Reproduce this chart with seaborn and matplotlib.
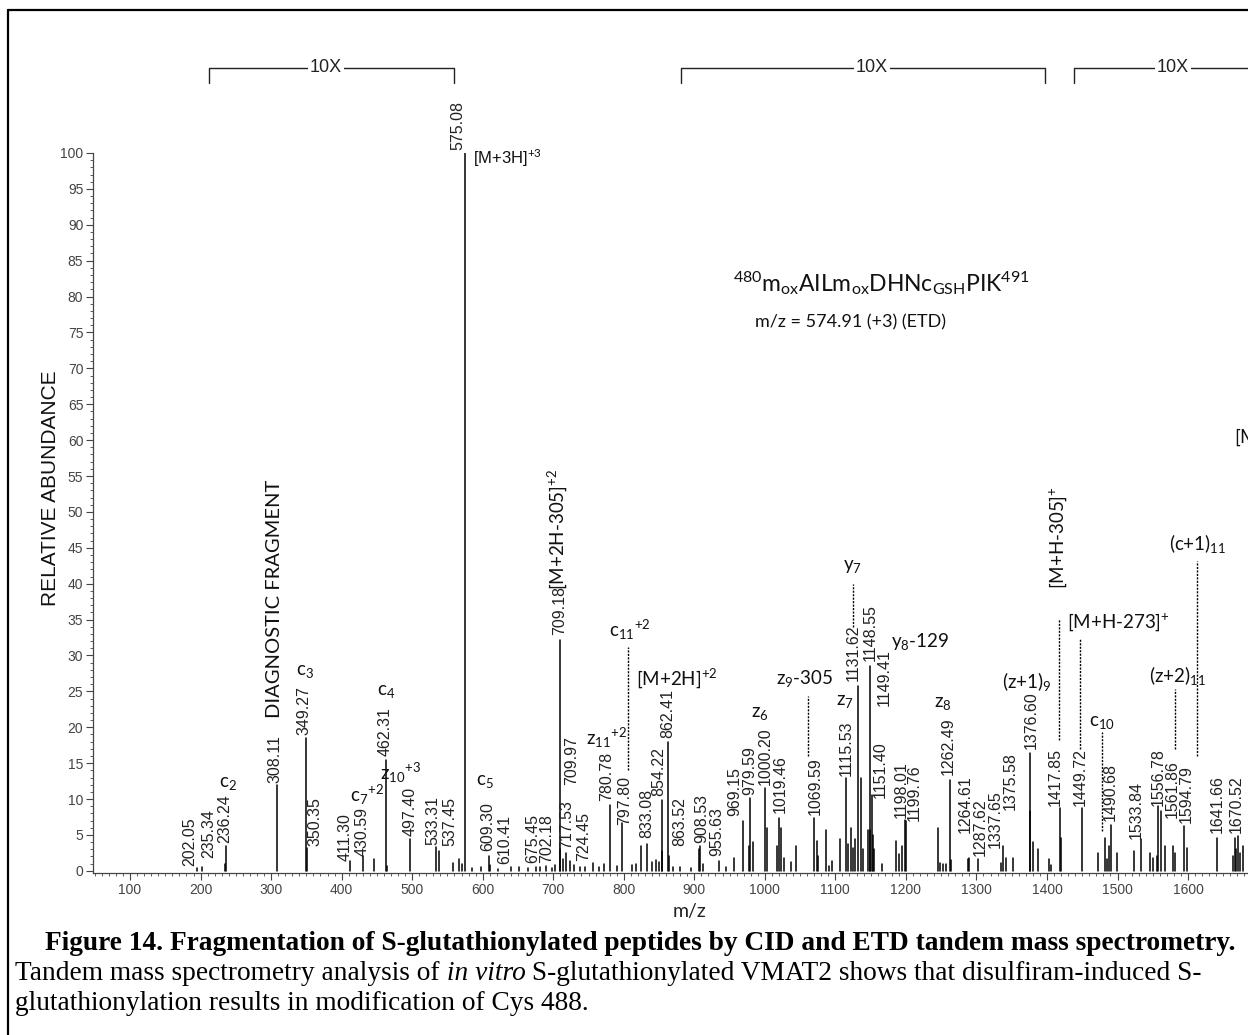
import numpy as np
import pandas as pd
import matplotlib
matplotlib.use("Agg")
import matplotlib.pyplot as plt
import seaborn as sns
from matplotlib.lines import Line2D
from matplotlib.ticker import MultipleLocator

# ---------------- data ----------------
# labelled peaks (m/z, relative abundance)
labeled_mz = [202.05, 235.34, 236.24, 308.11, 349.27, 350.35, 411.30, 430.59, 462.31, 497.40,
              533.31, 537.45, 575.08, 609.30, 610.41, 675.45, 702.18, 709.18, 709.97, 717.53,
              724.45, 780.78, 797.80, 833.08, 854.22, 862.41, 863.52, 908.53, 955.63, 969.15,
              979.59, 1000.20, 1019.46, 1069.59, 1115.53, 1131.62, 1148.55, 1149.41, 1151.40, 1198.01,
              1199.76, 1262.49, 1264.61, 1287.62, 1337.65, 1375.58, 1376.60, 1417.85, 1449.72, 1490.68,
              1533.84, 1556.78, 1561.86, 1594.79, 1641.66, 1670.52]
labeled_int = [0.6, 1.0, 3.4, 12.0, 18.5, 3.2, 1.4, 2.0, 15.5, 4.4,
               3.3, 2.8, 100.0, 2.1, 0.8, 0.5, 0.8, 32.1, 3.0, 2.5,
               1.4, 9.2, 6.7, 3.7, 9.9, 18.0, 2.0, 3.4, 1.8, 6.9,
               10.1, 11.5, 7.4, 7.4, 12.9, 25.7, 28.5, 5.7, 10.5, 7.1,
               6.9, 12.7, 1.5, 1.6, 3.4, 8.3, 16.4, 8.7, 8.7, 6.4,
               4.4, 9.0, 8.3, 6.2, 4.6, 4.8]
# where each m/z label sits (label centre m/z, label bottom abundance)
label_x = [185, 211, 234.7, 305.5, 346.7, 362, 404.8, 428.4, 461.5, 497,
           530, 553.7, 565, 607.5, 631.6, 671.5, 690.7, 709.6, 726, 719,
           742.7, 775.8, 801.8, 832.5, 849, 863, 879.8, 910.5, 931.8, 957.7,
           979, 1000, 1021.5, 1071, 1116, 1125.5, 1149, 1170, 1163.5, 1193,
           1211.5, 1260, 1283.8, 1305, 1326, 1347.6, 1378, 1411.5, 1447, 1489.5,
           1527, 1558, 1576.9, 1598, 1640.8, 1669]
label_y = [0.7, 1.8, 3.9, 12.2, 18.9, 3.5, 1.4, 2.1, 16.0, 4.9,
           3.6, 3.4, 100.4, 2.8, 0.9, 1.1, 1.1, 32.8, 12.0, 3.0,
           1.4, 9.7, 6.4, 4.6, 10.4, 18.5, 3.5, 3.9, 2.1, 7.6,
           10.6, 12.0, 8.0, 7.8, 13.2, 26.4, 29.2, 22.9, 10.1, 7.4,
           6.9, 13.4, 5.3, 2.1, 3.2, 8.5, 17.0, 9.0, 9.0, 6.9,
           4.4, 9.0, 7.4, 6.7, 5.3, 5.3]

# unlabelled peaks
other_mz = [194.5, 446, 464.8, 558, 567, 571, 585, 598, 622, 640,
            652, 664, 681, 690, 698, 713.4, 730, 738, 745, 757,
            765, 772, 790, 812, 818, 824, 840, 846, 850, 853.8,
            870, 880, 895, 906, 912, 935.5, 945, 978, 983, 1003.6,
            1017.5, 1022.5, 1027.7, 1037, 1044, 1073.6, 1076, 1086.7, 1091, 1095.7,
            1106.6, 1118.4, 1121.8, 1124.6, 1128, 1136, 1139.7, 1146, 1153, 1155,
            1166.6, 1186, 1190.7, 1194, 1246, 1248.5, 1252, 1257, 1290, 1302.7,
            1334.5, 1342, 1352.3, 1379.5, 1387.8, 1403.4, 1406, 1419.5, 1472.8, 1482.4,
            1485, 1487.5, 1499.8, 1524, 1546, 1550, 1555.5, 1567.4, 1579, 1581.6,
            1598, 1664, 1666.7, 1668, 1674, 1678]
other_int = [0.4, 1.7, 0.7, 1.1, 1.6, 1.0, 0.4, 0.5, 0.3, 0.5,
             0.6, 0.4, 0.5, 0.7, 0.4, 1.6, 0.8, 0.6, 0.5, 1.1,
             0.6, 0.9, 0.7, 0.8, 1.0, 3.5, 1.3, 1.5, 1.2, 2.8,
             0.6, 0.5, 0.4, 3.0, 1.0, 1.4, 0.6, 3.5, 4.0, 6.0,
             3.5, 6.0, 1.8, 1.2, 3.5, 4.1, 2.0, 5.7, 0.7, 1.4,
             4.4, 3.7, 6.0, 3.2, 4.5, 12.9, 3.0, 5.7, 5.0, 3.0,
             0.9, 4.1, 2.3, 3.5, 6.0, 1.1, 1.0, 0.9, 1.8, 1.6,
             1.1, 1.8, 1.8, 4.0, 3.0, 1.6, 0.8, 4.6, 2.5, 4.6,
             1.6, 3.5, 2.5, 2.7, 2.5, 1.8, 2.0, 3.5, 3.5, 2.5,
             3.2, 2.0, 4.6, 3.0, 2.5, 3.5]

# dotted guide lines for ion labels (m/z, from, to)
guide_mz = [806.5, 1124.6, 1061.7, 1417.6, 1447.0, 1477.6, 1582.0, 1612.0]
guide_top = [31.2, 40.0, 24.3, 35.1, 32.4, 19.4, 25.4, 43.2]
guide_bottom = [14.0, 34.0, 16.0, 18.2, 17.0, 5.5, 17.0, 16.0]

# ion annotations: text, m/z, abundance, rotation
ion_text = ["DIAGNOSTIC FRAGMENT", "c$_2$", "c$_3$", "c$_4$", "c$_7$$^{+2}$", "z$_{10}$$^{+3}$",
            "c$_5$", "[M+2H-305]$^{+2}$", "c$_{11}$$^{+2}$", "[M+2H]$^{+2}$", "z$_{11}$$^{+2}$",
            "z$_6$", "z$_9$-305", "z$_7$", "y$_7$", "y$_8$-129", "z$_8$", "(z+1)$_9$",
            "[M+H-305]$^{+}$", "[M+H-273]$^{+}$", "c$_{10}$", "(z+2)$_{11}$", "(c+1)$_{11}$", "[M+H]$^{+}$"]
ion_x = [305.5, 238.9, 348, 463, 436, 482.8, 603, 704.9, 808.9, 875.5, 776,
         993, 1057, 1113.7, 1123.6, 1220, 1252.6, 1371.8, 1416, 1500.8, 1478, 1584.5, 1614, 1665]
ion_y = [37.9, 12.2, 27.8, 25.0, 10.6, 13.6, 12.5, 47.6, 33.5, 26.8, 18.5,
         21.9, 26.8, 23.6, 42.4, 31.9, 23.3, 26.4, 46.4, 34.7, 20.6, 27.2, 45.6, 60.4]
ion_rot = [90, 0, 0, 0, 0, 0, 0, 90, 0, 0, 0, 0, 0, 0, 0, 0, 0, 0, 90, 0, 0, 0, 0, 0]

# "10X" zoom brackets (m/z start, end, label position)
bracket_start = [212, 881, 1438]
bracket_end = [559, 1397, 1720]
bracket_label = [377.9, 1152, 1578.8]

# ---------------- style ----------------
sns.set_theme(style="ticks")
NARROW = ['Liberation Sans Narrow', 'Liberation Sans', 'DejaVu Sans']
CAL = ['Lato', 'DejaVu Sans']
plt.rcParams['font.family'] = NARROW
plt.rcParams['mathtext.fontset'] = 'custom'
plt.rcParams['mathtext.rm'] = 'Lato'
plt.rcParams['mathtext.it'] = 'Lato:italic'
plt.rcParams['mathtext.bf'] = 'Lato:bold'

W, H = 1248, 1035
fig = plt.figure(figsize=(W / 100, H / 100), dpi=100)
fig.patch.set_facecolor('white')
ax = fig.add_axes([93 / W, 1 - 873 / H, 1 - 93 / W, (873 - 153) / H])

all_mz = labeled_mz + other_mz
all_int = labeled_int + other_int
rows = []
for i, (m, h) in enumerate(zip(all_mz, all_int)):
    rows.append((i, m, 0.0))
    rows.append((i, m, h))
df = pd.DataFrame(rows, columns=['peak', 'mz', 'intensity'])
sns.lineplot(data=df, x='mz', y='intensity', units='peak', estimator=None, sort=False,
             color='black', lw=1.1, ax=ax, legend=False)

ax.set_xlim(47.5, 1685)
ax.set_ylim(-0.3, 100)
ax.set_xlabel('')
ax.set_ylabel('')
for s in ['top', 'right']:
    ax.spines[s].set_visible(False)
for s in ['left', 'bottom']:
    ax.spines[s].set_color('#444444')
    ax.spines[s].set_linewidth(0.9)
ax.yaxis.set_major_locator(MultipleLocator(5))
ax.yaxis.set_minor_locator(MultipleLocator(1))
ax.xaxis.set_major_locator(MultipleLocator(100))
ax.xaxis.set_minor_locator(MultipleLocator(10))
ax.tick_params(axis='both', which='major', direction='out', length=5, width=0.8,
               color='#444444', labelsize=10, labelcolor='#444444', pad=2)
ax.tick_params(axis='both', which='minor', direction='out', length=2.5, width=0.6, color='#444444')
ax.set_xticks([t for t in range(100, 1700, 100)])
ax.set_yticks(list(range(0, 101, 5)))

# m/z labels on peaks
for m, lx, ly in zip(labeled_mz, label_x, label_y):
    ax.text(lx, ly, f"{m:.2f}", rotation=90, ha='center', va='bottom', fontsize=11.5,
            color='#222222', clip_on=False)

# [M+3H] label
ax.text(586.3, 99.4, "[M+3H]$^{+3}$", ha='left', va='center', fontsize=12, family=NARROW,
        color='#111111', clip_on=False)

# ion annotations
for t, x, y, r in zip(ion_text, ion_x, ion_y, ion_rot):
    fs = 14.5 if t == "DIAGNOSTIC FRAGMENT" else 13.5
    ax.text(x, y, t, rotation=r, ha='center' if t != "[M+H]$^{+}$" else 'left', va='center',
            fontsize=fs, family=CAL, color='#111111', clip_on=False)

# guide lines
ax.vlines(guide_mz, guide_bottom, guide_top, colors='black', linestyles=(0, (1.5, 1.0)),
          lw=1.0, clip_on=False)

# peptide text
ax.text(955, 81.9, "$^{480}$m$_{\\mathrm{ox}}$AILm$_{\\mathrm{ox}}$DHNc$_{\\mathrm{GSH}}$PIK$^{491}$",
        ha='left', va='center', fontsize=16.5, family=CAL, color='#111111')
ax.text(986, 76.4, "m/z = 574.91 (+3) (ETD)", ha='left', va='center', fontsize=13,
        family=CAL, color='#111111')

# 10X brackets
ybar, ytick = 111.9, 109.8
for s, e, lx in zip(bracket_start, bracket_end, bracket_label):
    ax.plot([s, s, e, e], [ytick, ybar, ybar, ytick], color='#222222', lw=1.0, clip_on=False)
    ax.text(lx, ybar, "10X", ha='center', va='center', fontsize=13, family=NARROW, color='#222222',
            bbox=dict(fc='white', ec='none', pad=1.5), clip_on=False)

# axis titles
fig.text(50 / W, 1 - 488 / H, "RELATIVE ABUNDANCE", rotation=90, ha='center', va='center',
         fontsize=15, family=NARROW, color='#111111')
fig.text(690 / W, 1 - 912 / H, "m/z", ha='center', va='center', fontsize=14, family=CAL,
         color='#222222')

# frame
fig.add_artist(Line2D([8 / W, 8 / W], [0, 1 - 10 / H], transform=fig.transFigure, color='black', lw=1.6))
fig.add_artist(Line2D([8 / W, 1], [1 - 10 / H, 1 - 10 / H], transform=fig.transFigure, color='black', lw=1.6))

# caption
SERIF = ['Liberation Serif', 'DejaVu Serif']
cs = 19.7
fig.text(45 / W, 1 - 943 / H,
         "Figure 14. Fragmentation of S-glutathionylated peptides by CID and ETD tandem mass spectrometry.",
         ha='left', va='center', fontsize=cs, family=SERIF, weight='bold', color='black')
renderer = fig.canvas.get_renderer()
y2 = 1 - 973 / H
t1 = fig.text(15 / W, y2, "Tandem mass spectrometry analysis of", ha='left', va='center',
              fontsize=cs, family=SERIF, color='black')
bb = t1.get_window_extent(renderer)
t2 = fig.text(bb.x1 / W, y2, " in vitro", ha='left', va='center', fontsize=cs, family=SERIF,
              style='italic', color='black')
bb2 = t2.get_window_extent(renderer)
fig.text(bb2.x1 / W, y2, " S-glutathionylated VMAT2 shows that disulfiram-induced S-", ha='left',
         va='center', fontsize=cs, family=SERIF, color='black')
fig.text(15 / W, 1 - 1003 / H, "glutathionylation results in modification of Cys 488.", ha='left',
         va='center', fontsize=cs, family=SERIF, color='black')

fig.savefig("out.png", dpi=100)
